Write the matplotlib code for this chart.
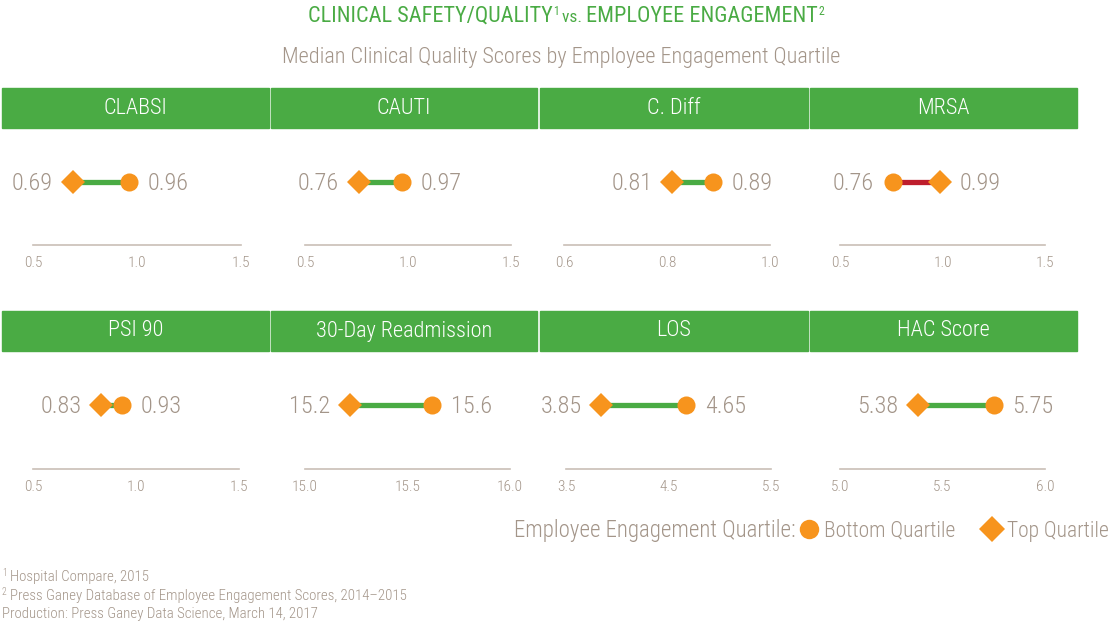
import matplotlib
matplotlib.use("Agg")
import matplotlib.pyplot as plt
from matplotlib import font_manager
from matplotlib.lines import Line2D
from matplotlib.patches import Rectangle

# pick a narrow font if one is there
names = {f.name for f in font_manager.fontManager.ttflist}
FONT = "DejaVu Sans"
for cand in ["Liberation Sans Narrow", "Roboto Condensed", "Open Sans Condensed", "Roboto"]:
    if cand in names:
        FONT = cand
        break
plt.rcParams["font.family"] = [FONT, "DejaVu Sans"]
plt.rcParams["font.weight"] = "light"

GREEN = "#4aab44"
ORANGE = "#f7941d"
RED = "#be1e2d"
GRAY = "#a39589"
AXGRAY = "#c9bfb6"

# data
metrics = ["CLABSI", "CAUTI", "C. Diff", "MRSA",
           "PSI 90", "30-Day Readmission", "LOS", "HAC Score"]
bottom_q = [0.96, 0.97, 0.89, 0.76, 0.93, 15.62, 4.67, 5.75]
top_q = [0.69, 0.76, 0.81, 0.99, 0.83, 15.22, 3.84, 5.38]
bottom_lbl = ["0.96", "0.97", "0.89", "0.76", "0.93", "15.6", "4.65", "5.75"]
top_lbl = ["0.69", "0.76", "0.81", "0.99", "0.83", "15.2", "3.85", "5.38"]
x_ticks = [[0.5, 1.0, 1.5], [0.5, 1.0, 1.5], [0.6, 0.8, 1.0], [0.5, 1.0, 1.5],
           [0.5, 1.0, 1.5], [15.0, 15.5, 16.0], [3.5, 4.5, 5.5], [5.0, 5.5, 6.0]]

W, H = 1112, 624
fig = plt.figure(figsize=(W / 100, H / 100), dpi=100)


def fx(px):
    return px / W


def fy(py):
    return 1 - py / H


# header boxes (pixel layout)
box_x = [(2, 269), (271, 537), (540, 808), (810, 1077)]
box_y = [(88, 128), (311, 351)]
# axis line spans
ax_x = [[(33, 241), (305, 511), (564, 770), (840, 1045)],
        [(33, 239), (305, 510), (566, 771), (840, 1045)]]
ax_base = [245, 469]
dot_y = [182, 405]

for i, name in enumerate(metrics):
    r, c = divmod(i, 4)
    x0, x1 = box_x[c]
    y0, y1 = box_y[r]
    fig.patches.append(Rectangle((fx(x0), fy(y1)), fx(x1 - x0), (y1 - y0) / H,
                                 transform=fig.transFigure, color=GREEN, zorder=0))
    fig.text(fx((x0 + x1) / 2), fy((y0 + y1) / 2), name, color="white",
             fontsize=16, ha="center", va="center")

    a0, a1 = ax_x[r][c]
    base = ax_base[r]
    ax = fig.add_axes([fx(a0), fy(base), fx(a1 - a0), 100 / H])
    ax.set_xlim(x_ticks[i][0], x_ticks[i][-1])
    ax.set_ylim(0, 1)
    yv = (base - dot_y[r]) / 100
    b, t = bottom_q[i], top_q[i]
    lc = GREEN if t < b else RED
    ax.plot([b, t], [yv, yv], color=lc, lw=3.8, solid_capstyle="butt", zorder=2)
    ax.plot([b], [yv], "o", color=ORANGE, ms=13, mew=0, zorder=3, clip_on=False)
    ax.plot([t], [yv], "D", color=ORANGE, ms=12, mew=0, zorder=3, clip_on=False)
    lo, hi = (t, b) if t < b else (b, t)
    lo_l, hi_l = (top_lbl[i], bottom_lbl[i]) if t < b else (bottom_lbl[i], top_lbl[i])
    ax.annotate(lo_l, (lo, yv), xytext=(-14, -1), textcoords="offset points",
                ha="right", va="center", fontsize=17.5, color=GRAY)
    ax.annotate(hi_l, (hi, yv), xytext=(13.5, -1), textcoords="offset points",
                ha="left", va="center", fontsize=17.5, color=GRAY)
    for s in ["top", "left", "right"]:
        ax.spines[s].set_visible(False)
    ax.spines["bottom"].set_color(AXGRAY)
    ax.spines["bottom"].set_linewidth(1.2)
    ax.set_yticks([])
    ax.set_xticks(x_ticks[i])
    ax.set_xticklabels([f"{v:.1f}" for v in x_ticks[i]])
    ax.tick_params(axis="x", length=0, pad=8, labelsize=11, labelcolor=GRAY)
    ax.patch.set_alpha(0)

fig.canvas.draw()
renderer = fig.canvas.get_renderer()


def chain(pieces, xc, y):
    # pieces: (text, size, dy) laid side by side, centred on xc
    objs = []
    for txt, size, dy in pieces:
        objs.append(fig.text(0, 0, txt, fontsize=size, color=GREEN, va="baseline",
                             fontweight="normal"))
    widths = [o.get_window_extent(renderer).width for o in objs]
    x = xc - sum(widths) / 2
    for o, w, (txt, size, dy) in zip(objs, widths, pieces):
        o.set_position((fx(x), fy(y - dy)))
        x += w


chain([("CLINICAL SAFETY/QUALITY", 16, 0), ("1", 8.5, 7), (" vs. ", 12.5, 0),
       ("EMPLOYEE ENGAGEMENT", 16, 0), ("2", 8.5, 7)], 566, 22)

fig.text(fx(561), fy(57), "Median Clinical Quality Scores by Employee Engagement Quartile",
         fontsize=16, color=GRAY, ha="center", va="center")

# legend
handles = [Line2D([], [], marker="o", ls="", color=ORANGE, ms=14, mew=0),
           Line2D([], [], marker="D", ls="", color=ORANGE, ms=13, mew=0)]
leg = fig.legend(handles, ["Bottom Quartile", "Top Quartile"], ncol=2, frameon=False,
                 loc="center right", bbox_to_anchor=(fx(1128), fy(531)),
                 fontsize=15.5, labelcolor=GRAY, handlelength=0.8, handletextpad=0.3,
                 columnspacing=1.3)
fig.canvas.draw()
lx = leg.get_window_extent(renderer).x0
fig.text(fx(lx + 4), fy(531), "Employee Engagement Quartile:", fontsize=16.5,
         color=GRAY, ha="right", va="center")

# footnotes
fig.text(fx(2), fy(573), "1", fontsize=7, color=GRAY, va="center")
fig.text(fx(10), fy(577), "Hospital Compare, 2015", fontsize=10.7, color=GRAY, va="center")
fig.text(fx(2), fy(592), "2", fontsize=7, color=GRAY, va="center")
fig.text(fx(10), fy(596), "Press Ganey Database of Employee Engagement Scores, 2014\u20132015",
         fontsize=10.7, color=GRAY, va="center")
fig.text(fx(2), fy(614), "Production: Press Ganey Data Science, March 14, 2017",
         fontsize=10.7, color=GRAY, va="center")

fig.savefig("out.png", dpi=100)
